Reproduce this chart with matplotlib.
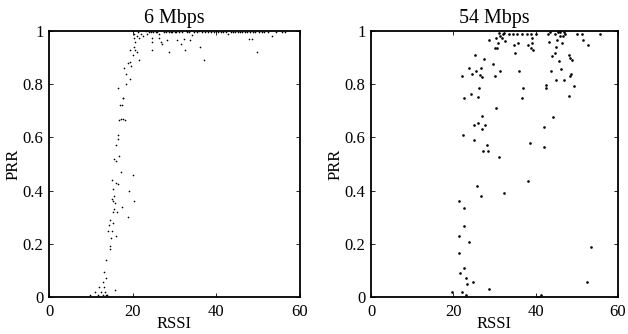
import matplotlib
matplotlib.use("Agg")
import matplotlib.pyplot as plt

plt.rcParams["font.family"] = ["Liberation Serif", "DejaVu Serif"]
plt.rcParams["font.size"] = 12

# 6 Mbps: RSSI vs PRR
rssi_6 = [9.7, 10.9, 11.8, 12.0, 12.4, 12.8, 13.2, 13.5, 13.6, 13.6, 13.2, 13.8, 12.8, 15.8,
          13.6, 14.0, 14.3, 14.5, 14.6, 14.8, 14.5, 15.0, 15.2, 15.2, 15.0, 15.3, 15.0, 15.6,
          15.6, 15.4, 15.8, 16.0, 16.0, 16.2, 16.4, 15.6, 16.0, 16.0, 16.4, 16.4, 16.8, 17.2,
          17.4, 18.8, 19.2, 20.0, 20.2, 16.8, 17.2, 17.6, 18.2, 17.0, 17.4, 17.6, 17.8, 16.6,
          18.4, 19.3, 18.4, 18.0, 19.0, 19.3, 19.5, 20.0, 19.3, 20.2, 20.6, 21.0, 21.4, 20.6,
          20.2, 20.0, 20.2, 21.0, 21.6, 22.4, 23.2, 23.5, 24.3, 24.6, 24.7, 24.6, 25.5, 26.2,
          26.7, 26.9, 27.5, 28.3, 28.7, 29.5, 30.7, 31.5, 32.2, 32.6, 33.0, 33.8, 34.2, 35.8,
          36.2, 37.0, 40.0, 42.9, 47.7, 48.5, 49.7, 53.2, 55.6,
          21.3, 22.1, 23.8, 24.9, 25.8, 26.4, 27.9, 28.6, 29.1, 30.0, 30.4, 31.0, 31.8, 32.9,
          33.5, 34.6, 35.3, 36.6, 37.4, 38.1, 38.8, 39.4, 40.5, 41.0, 41.6, 42.3, 43.4, 44.0,
          44.5, 45.1, 45.7, 46.2, 46.9, 47.4, 48.0, 48.8, 49.3, 50.1, 50.8, 51.5, 52.4, 54.3,
          56.4]
prr_6 = [0.006, 0.019, 0.006, 0.038, 0.02, 0.057, 0.038, 0.02, 0.006, 0.07, 0.095, 0.006, 0.006, 0.028,
         0.14, 0.25, 0.27, 0.29, 0.18, 0.22, 0.19, 0.25, 0.28, 0.32, 0.37, 0.405, 0.44, 0.38,
         0.33, 0.36, 0.355, 0.43, 0.23, 0.32, 0.425, 0.52, 0.51, 0.57, 0.595, 0.61, 0.53, 0.47,
         0.34, 0.30, 0.40, 0.46, 0.36, 0.665, 0.67, 0.67, 0.665, 0.72, 0.72, 0.75, 0.75, 0.785,
         0.80, 0.82, 0.84, 0.86, 0.88, 0.885, 0.87, 0.91, 0.93, 0.94, 0.93, 0.92, 0.89, 0.96,
         0.975, 1.0, 0.99, 0.98, 0.975, 0.98, 1.0, 0.99, 0.995, 0.975, 0.96, 0.93, 0.995, 0.975,
         0.96, 0.95, 0.995, 0.965, 0.92, 0.995, 0.965, 0.95, 0.97, 0.93, 1.0, 0.965, 0.985, 1.0,
         0.94, 0.89, 1.0, 0.99, 0.97, 0.97, 0.92, 0.98, 0.995,
         0.995, 0.99, 0.997, 0.995, 0.998, 0.99, 0.997, 0.995, 0.998, 0.997, 0.995, 0.998, 0.997, 0.995,
         0.998, 0.997, 0.998, 0.995, 0.998, 0.997, 0.998, 0.995, 0.997, 0.998, 0.998, 0.995, 0.997, 0.998,
         0.995, 0.997, 0.998, 0.995, 0.998, 0.997, 0.995, 0.998, 0.997, 0.995, 0.998, 0.997, 0.995, 0.998,
         0.995]

# 54 Mbps: RSSI vs PRR
rssi_54 = [19.6, 21.6, 21.4, 21.4, 21.4, 22.0, 22.2, 22.6, 22.4, 22.6, 22.6, 22.6, 23.0, 23.2,
           23.0, 23.8, 23.8, 24.2, 24.6, 24.8, 24.96, 25.1, 25.2, 25.4, 25.8, 26.0, 26.1, 26.2,
           26.4, 26.6, 26.8, 27.0, 27.0, 27.0, 27.2, 27.4, 27.8, 28.2, 28.4, 28.6, 28.6, 29.6,
           30.0, 30.2, 30.4, 30.4, 30.6, 30.8, 31.0, 31.2, 31.4, 31.4, 31.8, 32.0, 32.2, 32.4,
           32.6, 33.6, 34.6, 34.7, 35.0, 35.4, 35.6, 36.0, 36.6, 36.8, 37.0, 38.0, 38.2, 38.2,
           38.6, 38.8, 38.9, 39.0, 39.2, 39.4, 40.0, 40.6, 41.2, 42.0, 42.0, 42.4, 42.6, 43.0,
           43.2, 43.6, 43.8, 44.0, 44.2, 44.6, 44.8, 45.0, 45.0, 45.2, 45.4, 45.6, 45.8, 46.0,
           46.2, 46.4, 46.6, 46.8, 47.0, 47.2, 48.0, 48.2, 48.4, 48.4, 48.6, 48.9, 49.2, 50.0,
           51.2, 51.6, 52.4, 52.8, 53.4, 55.6]
prr_54 = [0.019, 0.089, 0.228, 0.361, 0.165, 0.829, 0.019, 0.749, 0.608, 0.335, 0.266, 0.108, 0.07, 0.048,
          0.006, 0.206, 0.861, 0.763, 0.838, 0.057, 0.648, 0.589, 0.909, 0.848, 0.418, 0.656, 0.751, 0.787,
          0.835, 0.861, 0.38, 0.633, 0.827, 0.681, 0.547, 0.895, 0.648, 0.573, 0.547, 0.965, 0.029, 0.877,
          0.829, 0.937, 0.975, 0.711, 0.937, 0.956, 0.994, 0.527, 0.848, 0.981, 0.975, 0.987, 0.392, 0.994,
          0.962, 0.987, 0.987, 0.947, 0.918, 0.987, 0.956, 0.848, 0.749, 0.987, 0.787, 0.987, 0.949, 0.435,
          0.580, 0.987, 0.937, 0.975, 0.956, 0.927, 0.987, 0.0, 0.008, 0.639, 0.563, 0.787, 0.797, 0.987,
          0.958, 0.997, 0.848, 0.905, 0.677, 0.987, 0.918, 0.816, 0.94, 0.968, 0.997, 0.886, 0.981, 0.997,
          0.858, 0.956, 0.981, 0.997, 0.816, 0.987, 0.909, 0.756, 0.899, 0.829, 0.838, 0.892, 0.795, 0.987,
          0.987, 0.965, 0.057, 0.947, 0.187, 0.987]

panels = [
    ("6 Mbps", rssi_6, prr_6, 2.4, [49 / 628, 37 / 334, 251 / 628, 266 / 334]),
    ("54 Mbps", rssi_54, prr_54, 3.8, [371 / 628, 37 / 334, 247 / 628, 266 / 334]),
]

fig = plt.figure(figsize=(6.28, 3.34), dpi=100)
for title, x, y, ms, rect in panels:
    ax = fig.add_axes(rect)
    ax.plot(x, y, "k.", markersize=ms, markeredgewidth=0)
    ax.set_xlim(0, 60)
    ax.set_ylim(0, 1)
    ax.set_xticks([0, 20, 40, 60])
    ax.set_yticks([0, 0.2, 0.4, 0.6, 0.8, 1])
    ax.set_yticklabels(["0", "0.2", "0.4", "0.6", "0.8", "1"])
    ax.tick_params(direction="in", top=True, right=True, length=3, width=0.6)
    ax.tick_params(axis="x", pad=5)
    ax.tick_params(axis="y", pad=4)
    for s in ax.spines.values():
        s.set_linewidth(1.3)
    ax.set_title(title, pad=6)
    ax.set_xlabel("RSSI", labelpad=-3)
    ax.set_ylabel("PRR", labelpad=1)

fig.savefig("out.png", dpi=100)
